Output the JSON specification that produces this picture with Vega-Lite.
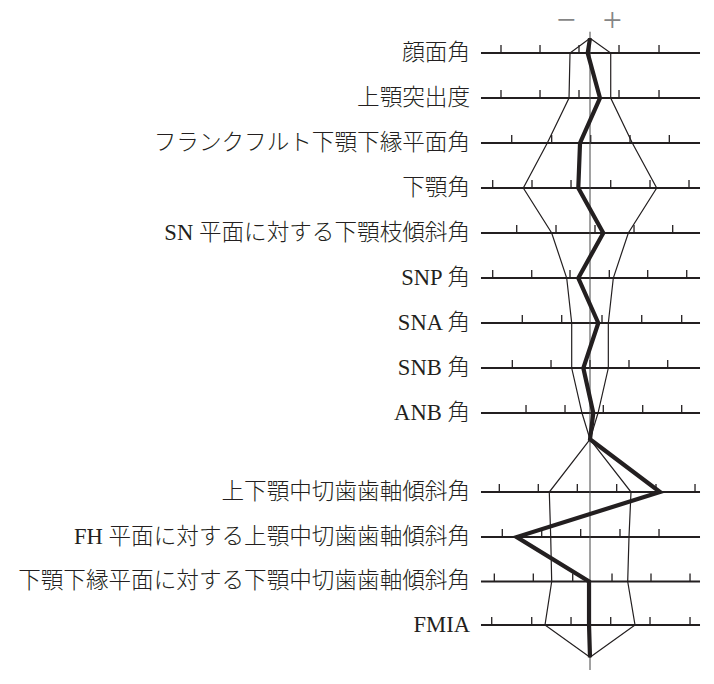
{
  "$schema": "https://vega.github.io/schema/vega-lite/v6.json",
  "width": 714,
  "height": 684,
  "padding": 0,
  "autosize": {"type": "fit", "contains": "padding"},
  "background": "white",
  "view": {"stroke": null},
  "datasets": {
    "rows": [
      {"label": "顔面角", "v": 1},
      {"label": "上顎突出度", "v": 2},
      {"label": "フランクフルト下顎下縁平面角", "v": 3},
      {"label": "下顎角", "v": 4},
      {"label": "SN 平面に対する下顎枝傾斜角", "v": 5},
      {"label": "SNP 角", "v": 6},
      {"label": "SNA 角", "v": 7},
      {"label": "SNB 角", "v": 8},
      {"label": "ANB 角", "v": 9},
      {"label": "上下顎中切歯歯軸傾斜角", "v": 10.756},
      {"label": "FH 平面に対する上顎中切歯歯軸傾斜角", "v": 11.756},
      {"label": "下顎下縁平面に対する下顎中切歯歯軸傾斜角", "v": 12.744},
      {"label": "FMIA", "v": 13.711}
    ],
    "ticks": [
      {"v": 1, "u": -2.265}, {"v": 1, "u": -1.272}, {"v": 1, "u": -0.28}, {"v": 1, "u": 0.738}, {"v": 1, "u": 1.756},
      {"v": 2, "u": -2.265}, {"v": 2, "u": -1.272}, {"v": 2, "u": -0.28}, {"v": 2, "u": 0.738}, {"v": 2, "u": 1.756},
      {"v": 3, "u": -1.992}, {"v": 3, "u": -0.975}, {"v": 3, "u": 0.018}, {"v": 3, "u": 1.018}, {"v": 3, "u": 2.018},
      {"v": 4, "u": -2.476}, {"v": 4, "u": -1.476}, {"v": 4, "u": -0.483}, {"v": 4, "u": 0.527}, {"v": 4, "u": 1.527}, {"v": 4, "u": 2.519},
      {"v": 5, "u": -1.865}, {"v": 5, "u": -0.865}, {"v": 5, "u": 0.127}, {"v": 5, "u": 1.12}, {"v": 5, "u": 2.104},
      {"v": 6, "u": -2.476}, {"v": 6, "u": -1.483}, {"v": 6, "u": -0.509}, {"v": 6, "u": 0.491}, {"v": 6, "u": 1.468}, {"v": 6, "u": 2.461},
      {"v": 7, "u": -1.723}, {"v": 7, "u": -0.72}, {"v": 7, "u": 0.305}, {"v": 7, "u": 1.316}, {"v": 7, "u": 2.333},
      {"v": 8, "u": -1.977}, {"v": 8, "u": -0.992}, {"v": 8, "u": 0}, {"v": 8, "u": 0.992}, {"v": 8, "u": 1.977},
      {"v": 9, "u": -1.628}, {"v": 9, "u": -0.636}, {"v": 9, "u": 0.338}, {"v": 9, "u": 1.341}, {"v": 9, "u": 2.333},
      {"v": 10.756, "u": -2.308}, {"v": 10.756, "u": -1.316}, {"v": 10.756, "u": -0.323}, {"v": 10.756, "u": 0.679}, {"v": 10.756, "u": 1.679}, {"v": 10.756, "u": 2.672},
      {"v": 11.756, "u": -2.232}, {"v": 11.756, "u": -1.229}, {"v": 11.756, "u": -0.237}, {"v": 11.756, "u": 0.763}, {"v": 11.756, "u": 1.756},
      {"v": 12.744, "u": -2.435}, {"v": 12.744, "u": -1.443}, {"v": 12.744, "u": -0.44}, {"v": 12.744, "u": 0.56}, {"v": 12.744, "u": 1.552}, {"v": 12.744, "u": 2.545},
      {"v": 13.711, "u": -2.501}, {"v": 13.711, "u": -1.483}, {"v": 13.711, "u": -0.483}, {"v": 13.711, "u": 0.527}, {"v": 13.711, "u": 1.527}, {"v": 13.711, "u": 2.545}
    ],
    "norm": [
      {"side": "L", "seq": 0, "u": 0, "v": 0.673},
      {"side": "L", "seq": 1, "u": -0.509, "v": 1},
      {"side": "L", "seq": 2, "u": -0.534, "v": 2},
      {"side": "L", "seq": 3, "u": -1.087, "v": 3},
      {"side": "L", "seq": 4, "u": -1.697, "v": 4},
      {"side": "L", "seq": 5, "u": -0.975, "v": 5},
      {"side": "L", "seq": 6, "u": -0.593, "v": 6},
      {"side": "L", "seq": 7, "u": -0.466, "v": 7},
      {"side": "L", "seq": 8, "u": -0.466, "v": 8},
      {"side": "L", "seq": 9, "u": -0.204, "v": 9},
      {"side": "L", "seq": 10, "u": 0, "v": 9.584},
      {"side": "L", "seq": 11, "u": -1.036, "v": 10.756},
      {"side": "L", "seq": 12, "u": -1.0, "v": 11.756},
      {"side": "L", "seq": 13, "u": -0.975, "v": 12.744},
      {"side": "L", "seq": 14, "u": -1.145, "v": 13.711},
      {"side": "L", "seq": 15, "u": 0, "v": 14.429},
      {"side": "R", "seq": 0, "u": 0, "v": 0.673},
      {"side": "R", "seq": 1, "u": 0.527, "v": 1},
      {"side": "R", "seq": 2, "u": 0.527, "v": 2},
      {"side": "R", "seq": 3, "u": 1.076, "v": 3},
      {"side": "R", "seq": 4, "u": 1.697, "v": 4},
      {"side": "R", "seq": 5, "u": 0.975, "v": 5},
      {"side": "R", "seq": 6, "u": 0.593, "v": 6},
      {"side": "R", "seq": 7, "u": 0.466, "v": 7},
      {"side": "R", "seq": 8, "u": 0.466, "v": 8},
      {"side": "R", "seq": 9, "u": 0.204, "v": 9},
      {"side": "R", "seq": 10, "u": 0, "v": 9.584},
      {"side": "R", "seq": 11, "u": 1.043, "v": 10.756},
      {"side": "R", "seq": 12, "u": 0.992, "v": 11.756},
      {"side": "R", "seq": 13, "u": 0.959, "v": 12.744},
      {"side": "R", "seq": 14, "u": 1.145, "v": 13.711},
      {"side": "R", "seq": 15, "u": 0, "v": 14.429}
    ],
    "patient": [
      {"seq": 0, "u": 0, "v": 0.673},
      {"seq": 1, "u": -0.059, "v": 1},
      {"seq": 2, "u": 0.254, "v": 2},
      {"seq": 3, "u": -0.254, "v": 3},
      {"seq": 4, "u": -0.298, "v": 4},
      {"seq": 5, "u": 0.338, "v": 5},
      {"seq": 6, "u": -0.298, "v": 6},
      {"seq": 7, "u": 0.211, "v": 7},
      {"seq": 8, "u": -0.17, "v": 8},
      {"seq": 9, "u": 0.084, "v": 9},
      {"seq": 10, "u": 0, "v": 9.584},
      {"seq": 11, "u": 1.781, "v": 10.756},
      {"seq": 12, "u": -1.865, "v": 11.756},
      {"seq": 13, "u": -0.025, "v": 12.744},
      {"seq": 14, "u": -0.025, "v": 13.711},
      {"seq": 15, "u": 0, "v": 14.429}
    ],
    "signs": [
      {"sign": "−", "u": -0.611, "v": 0.282},
      {"sign": "+", "u": 0.567, "v": 0.282}
    ]
  },
  "encoding": {
    "x": {"type": "quantitative", "scale": {"domain": [-15.013, 3.155], "nice": false, "zero": false}, "axis": null},
    "y": {"type": "quantitative", "scale": {"domain": [-0.178, 15.022], "nice": false, "zero": false, "reverse": true}, "axis": null}
  },
  "layer": [
    {
      "data": {"name": "rows"},
      "mark": {"type": "rule", "color": "#231f20", "strokeWidth": 2},
      "encoding": {
        "x": {"datum": -2.774},
        "x2": {"datum": 2.799},
        "y": {"field": "v"}
      }
    },
    {
      "data": {"name": "ticks"},
      "mark": {"type": "tick", "orient": "vertical", "size": 8, "thickness": 1.3, "yOffset": -4, "color": "#231f20", "opacity": 1},
      "encoding": {
        "x": {"field": "u"},
        "y": {"field": "v"}
      }
    },
    {
      "data": {"values": [{}]},
      "mark": {"type": "rule", "color": "#444444", "strokeWidth": 1},
      "encoding": {
        "x": {"datum": 0},
        "y": {"datum": 0.527},
        "y2": {"datum": 14.711}
      }
    },
    {
      "data": {"name": "norm"},
      "mark": {"type": "line", "color": "#231f20", "strokeWidth": 1.2},
      "encoding": {
        "x": {"field": "u"},
        "y": {"field": "v"},
        "detail": {"field": "side"},
        "order": {"field": "seq"}
      }
    },
    {
      "data": {"name": "patient"},
      "mark": {"type": "line", "color": "#231f20", "strokeWidth": 4.2, "strokeJoin": "miter"},
      "encoding": {
        "x": {"field": "u"},
        "y": {"field": "v"},
        "order": {"field": "seq"}
      }
    },
    {
      "data": {"name": "rows"},
      "mark": {"type": "text", "align": "right", "baseline": "middle", "font": "Liberation Serif, Noto Sans CJK JP", "fontSize": 22.6, "fontWeight": 300, "color": "#231f20"},
      "encoding": {
        "x": {"datum": -3.053},
        "y": {"field": "v"},
        "text": {"field": "label"}
      }
    },
    {
      "data": {"name": "signs"},
      "mark": {"type": "text", "align": "center", "baseline": "middle", "font": "Liberation Serif", "fontSize": 34, "color": "#858585"},
      "encoding": {
        "x": {"field": "u"},
        "y": {"field": "v"},
        "text": {"field": "sign"}
      }
    }
  ]
}
